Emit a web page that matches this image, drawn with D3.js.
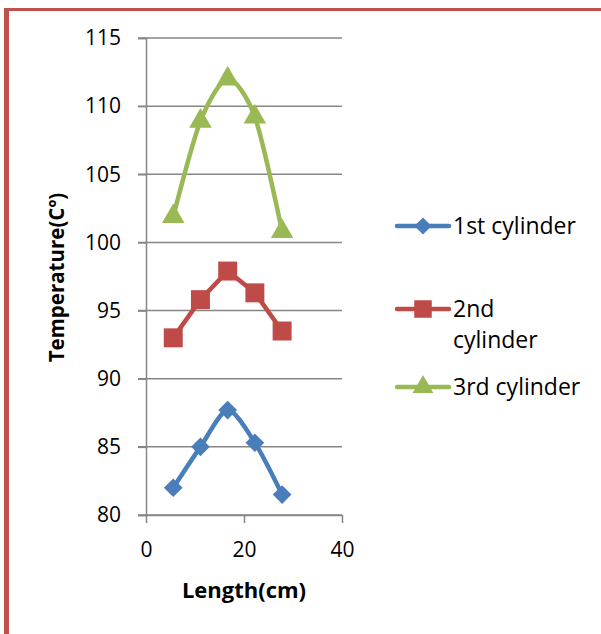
<!DOCTYPE html>
<html>
<head>
<meta charset="utf-8">
<script src="https://cdn.jsdelivr.net/npm/d3@7"></script>
<style>
  body { margin: 0; background: #fff; }
  text { font-family: "Open Sans", "Noto Sans", sans-serif; }
</style>
</head>
<body>
<div id="chart"></div>
<script>
// data
var lengths = [5.56, 11.11, 16.67, 22.22, 27.78]
var cyl1 = [82.0, 85.0, 87.7, 85.3, 81.5]
var cyl2 = [93.0, 95.8, 97.9, 96.3, 93.5]
var cyl3 = [101.9, 108.9, 112.0, 109.2, 100.8]
var seriesNames = ["1st cylinder", "2nd cylinder", "3rd cylinder"]
var xTicks = [0, 20, 40]
var yTicks = [80, 85, 90, 95, 100, 105, 110, 115]

// excel style diamond = square turned 45 degrees
var diamond = {
  draw: function(ctx, size) {
    var r = Math.sqrt(size / 2)
    ctx.moveTo(0, -r); ctx.lineTo(r, 0); ctx.lineTo(0, r); ctx.lineTo(-r, 0); ctx.closePath()
  }
}

var series = [
  {name: seriesNames[0], values: cyl1, color: "#4A7EBB", symbol: diamond, size: 175, smooth: true, label: ["1st cylinder"]},
  {name: seriesNames[1], values: cyl2, color: "#BE4B48", symbol: d3.symbolSquare, size: 360, smooth: false, label: ["2nd", "cylinder"]},
  {name: seriesNames[2], values: cyl3, color: "#98B954", symbol: d3.symbolTriangle, size: 220, smooth: true, label: ["3rd cylinder"]}
]

var svg = d3.select('#chart').append('svg')
  .attr('width', 601)
  .attr('height', 634)

// red frame (left + top)
svg.append('rect').attr('x', 4).attr('y', 8).attr('width', 5).attr('height', 626).attr('fill', '#C0504D')
svg.append('rect').attr('x', 4).attr('y', 8).attr('width', 597).attr('height', 3).attr('fill', '#C0504D')

var margin = {top: 38, left: 146, right: 342, bottom: 515}

var x = d3.scaleLinear().domain([0, 40]).range([margin.left, margin.right])
var y = d3.scaleLinear().domain([80, 115]).range([margin.bottom, margin.top])

// gridlines
svg.append('g')
  .selectAll('line')
  .data(yTicks)
  .join('line')
  .attr('x1', x(0) - 8)
  .attr('x2', x(40))
  .attr('y1', d => y(d))
  .attr('y2', d => y(d))
  .attr('stroke', '#868686')
  .attr('stroke-width', 1.5)

var yAxis = g => g
  .attr("transform", `translate(${margin.left},0)`)
  .call(d3.axisLeft(y).tickValues(yTicks).tickSize(8).tickPadding(17))
  .call(g => g.select(".domain").attr('stroke', '#868686').attr('stroke-width', 1.5))
  .call(g => g.selectAll(".tick line").attr('stroke', '#868686').attr('stroke-width', 1.5))
  .call(g => g.selectAll(".tick text").attr('font-size', 21).attr('fill', '#000'))

var xAxis = g => g
  .attr("transform", `translate(0,${margin.bottom})`)
  .call(d3.axisBottom(x).tickValues(xTicks).tickSize(8).tickSizeOuter(0).tickPadding(19))
  .call(g => g.select(".domain").attr('stroke', '#868686').attr('stroke-width', 1.5))
  .call(g => g.selectAll(".tick line").attr('stroke', '#868686').attr('stroke-width', 1.5))
  .call(g => g.selectAll(".tick text").attr('font-size', 21).attr('fill', '#000'))

svg.append("g").call(yAxis)
svg.append("g").call(xAxis)

// axis titles
svg.append('text')
  .attr('transform', `translate(64,${(margin.top + margin.bottom) / 2 + 1}) rotate(-90)`)
  .attr('text-anchor', 'middle')
  .attr('font-weight', 'bold')
  .attr('font-size', 20.5)
  .text('Temperature(Cº)')

svg.append('text')
  .attr('x', x(20))
  .attr('y', 598)
  .attr('text-anchor', 'middle')
  .attr('font-weight', 'bold')
  .attr('font-size', 22)
  .text('Length(cm)')

// series
series.forEach(function(s) {
  var pts = s.values.map((v, i) => [lengths[i], v])
  var line = d3.line()
    .x(d => x(d[0]))
    .y(d => y(d[1]))
    .curve(s.smooth ? d3.curveCardinal.tension(0.2) : d3.curveLinear)

  svg.append('path')
    .attr('d', line(pts))
    .attr('fill', 'none')
    .attr('stroke', s.color)
    .attr('stroke-width', 4.5)
    .attr('stroke-linejoin', 'round')
    .attr('stroke-linecap', 'round')

  svg.append('g')
    .selectAll('path')
    .data(pts)
    .join('path')
    .attr('transform', d => `translate(${x(d[0])},${y(d[1])})`)
    .attr('d', d3.symbol().type(s.symbol).size(s.size))
    .attr('fill', s.color)
})

// legend
var legendY = [226, 309, 387]
series.forEach(function(s, i) {
  var g = svg.append('g').attr('transform', `translate(0,${legendY[i]})`)
  g.append('line')
    .attr('x1', 397).attr('x2', 449)
    .attr('stroke', s.color).attr('stroke-width', 4.5).attr('stroke-linecap', 'round')
  g.append('path')
    .attr('transform', 'translate(423,0)')
    .attr('d', d3.symbol().type(s.symbol).size(s.size * 0.85))
    .attr('fill', s.color)
  s.label.forEach(function(t, j) {
    g.append('text')
      .attr('x', 453)
      .attr('y', j * 31)
      .attr('dy', '0.35em')
      .attr('font-size', 23)
      .text(t)
  })
})
</script>
</body>
</html>
